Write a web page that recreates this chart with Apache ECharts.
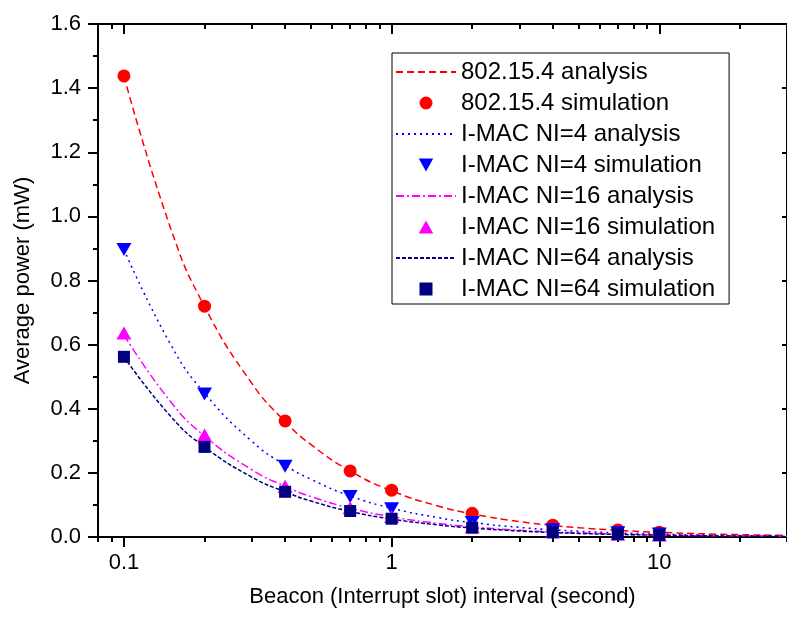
<!DOCTYPE html>
<html>
<head>
<meta charset="utf-8">
<script src="https://cdn.jsdelivr.net/npm/echarts@6/dist/echarts.min.js"></script>
<style>
html,body{margin:0;padding:0;background:#fff;}
#chart{width:787px;height:619px;}
</style>
</head>
<body>
<div id="chart"></div>
<script>
// ---- data ----
var simX = [0.1, 0.2, 0.4, 0.7, 1, 2, 4, 7, 10];
var sim802 = [1.438, 0.720, 0.362, 0.206, 0.146, 0.074, 0.037, 0.022, 0.015];
var simNI4 = [0.897, 0.446, 0.221, 0.126, 0.088, 0.045, 0.023, 0.013, 0.009];
var simNI16 = [0.636, 0.318, 0.158, 0.091, 0.064, 0.032, 0.016, 0.009, 0.0065];
var simNI64 = [0.562, 0.281, 0.141, 0.081, 0.057, 0.029, 0.0145, 0.0085, 0.006];

var anaX = [0.1, 0.15, 0.2, 0.3, 0.4, 0.5, 0.7, 1, 1.5, 2, 3, 4, 5, 7, 10, 15, 20, 30];
var ana802 = [1.438, 0.959, 0.719, 0.480, 0.360, 0.288, 0.206, 0.144, 0.096, 0.072, 0.048, 0.036, 0.029, 0.021, 0.0145, 0.0097, 0.0073, 0.0049];
var anaNI4 = [0.897, 0.598, 0.449, 0.299, 0.224, 0.180, 0.128, 0.090, 0.060, 0.045, 0.030, 0.0225, 0.018, 0.0128, 0.009, 0.006, 0.0045, 0.003];
var anaNI16 = [0.630, 0.420, 0.315, 0.210, 0.158, 0.126, 0.090, 0.063, 0.042, 0.0315, 0.021, 0.0158, 0.0126, 0.009, 0.0063, 0.0042, 0.0032, 0.0021];
var anaNI64 = [0.562, 0.375, 0.281, 0.187, 0.141, 0.112, 0.080, 0.056, 0.0375, 0.028, 0.0187, 0.014, 0.0112, 0.008, 0.0056, 0.0037, 0.0028, 0.0019];

var xMajorTicks = [0.1, 1, 10];
var xMinorTicks = [0.08, 0.09, 0.2, 0.3, 0.4, 0.5, 0.6, 0.7, 0.8, 0.9, 2, 3, 4, 5, 6, 7, 8, 9, 20, 30];
var seriesNames = ['802.15.4 analysis', '802.15.4 simulation', 'I-MAC NI=4 analysis', 'I-MAC NI=4 simulation',
  'I-MAC NI=16 analysis', 'I-MAC NI=16 simulation', 'I-MAC NI=64 analysis', 'I-MAC NI=64 simulation'];
var xName = 'Beacon (Interrupt slot) interval (second)';
var yName = 'Average power (mW)';

function zip(xs, ys) { return xs.map(function (x, i) { return [x, ys[i]]; }); }

var FONT = 'Liberation Sans, Arial, Helvetica, sans-serif';
var black = '#000';

function lineSeries(name, xs, ys, color, dash) {
  return {
    name: name, type: 'line', xAxisIndex: 0, yAxisIndex: 0,
    data: zip(xs, ys), smooth: true, symbol: 'none',
    itemStyle: { color: color },
    lineStyle: { color: color, width: 1.5, type: dash },
    z: 2
  };
}
function scatterSeries(name, xs, ys, color, symbol, size) {
  return {
    name: name, type: 'scatter', xAxisIndex: 0, yAxisIndex: 0,
    data: zip(xs, ys), symbol: symbol, symbolSize: size,
    itemStyle: { color: color, opacity: 1 },
    z: 3
  };
}

var downTri = 'path://M0,0 L10,0 L5,9 Z';
var upTri = 'path://M5,0 L10,9 L0,9 Z';
var squareIcon = 'path://M0,0 L10,0 L10,10 L0,10 Z';

var xBase = { type: 'log', logBase: 10, min: 0.08, max: 30, gridIndex: 0, splitLine: { show: false } };

var option = {
  animation: false,
  backgroundColor: '#fff',
  grid: { left: 98, right: -2, top: 24, bottom: 82, containLabel: false },
  legend: {
    orient: 'vertical',
    left: 392, top: 53,
    padding: [7, 14, 3, 3],
    itemWidth: 60, itemHeight: 13, itemGap: 7,
    borderColor: black, borderWidth: 1,
    backgroundColor: '#fff',
    textStyle: { fontFamily: FONT, fontSize: 24, color: black, lineHeight: 24 },
    data: [
      { name: seriesNames[0], itemStyle: { opacity: 0 } },
      { name: seriesNames[1] },
      { name: seriesNames[2], itemStyle: { opacity: 0 } },
      { name: seriesNames[3] },
      { name: seriesNames[4], itemStyle: { opacity: 0 } },
      { name: seriesNames[5], icon: upTri },
      { name: seriesNames[6], itemStyle: { opacity: 0 } },
      { name: seriesNames[7], icon: squareIcon }
    ]
  },
  xAxis: [
    Object.assign({}, xBase, {
      position: 'bottom',
      name: xName, nameLocation: 'middle', nameGap: 49,
      nameTextStyle: { fontFamily: FONT, fontSize: 22, color: black },
      axisLine: { show: true, lineStyle: { color: black, width: 2 } },
      axisTick: { show: true, inside: false, length: 10, lineStyle: { color: black, width: 2 }, customValues: xMajorTicks },
      axisLabel: { show: true, margin: 15, fontFamily: FONT, fontSize: 22, color: black, customValues: xMajorTicks }
    }),
    Object.assign({}, xBase, {
      position: 'bottom',
      axisLine: { show: false },
      axisTick: { show: true, inside: false, length: 5, lineStyle: { color: black, width: 2 }, customValues: xMinorTicks },
      axisLabel: { show: false }
    }),
    Object.assign({}, xBase, {
      position: 'top',
      axisLine: { show: true, lineStyle: { color: black, width: 2 } },
      axisTick: { show: true, inside: true, length: 10, lineStyle: { color: black, width: 2 }, customValues: xMajorTicks },
      axisLabel: { show: false }
    }),
    Object.assign({}, xBase, {
      position: 'top',
      axisLine: { show: false },
      axisTick: { show: true, inside: true, length: 5, lineStyle: { color: black, width: 2 }, customValues: xMinorTicks },
      axisLabel: { show: false }
    })
  ],
  yAxis: [
    {
      type: 'value', min: 0, max: 1.6, interval: 0.2, position: 'left',
      name: yName, nameLocation: 'middle', nameGap: 64,
      nameTextStyle: { fontFamily: FONT, fontSize: 22, color: black },
      splitLine: { show: false },
      axisLine: { show: true, lineStyle: { color: black, width: 2 } },
      axisTick: { show: true, inside: false, length: 10, lineStyle: { color: black, width: 2 } },
      minorTick: { show: true, splitNumber: 2, length: 5, lineStyle: { color: black, width: 2 } },
      axisLabel: { margin: 17, fontFamily: FONT, fontSize: 22, color: black,
        formatter: function (v) { return v.toFixed(1); } }
    },
    {
      type: 'value', min: 0, max: 1.6, interval: 0.2, position: 'right',
      splitLine: { show: false },
      axisLine: { show: true, lineStyle: { color: black, width: 2 } },
      axisTick: { show: true, inside: true, length: 5, lineStyle: { color: black, width: 2 } },
      minorTick: { show: false },
      axisLabel: { show: false }
    }
  ],
  series: [
    lineSeries(seriesNames[0], anaX, ana802, '#ff0000', [7, 4]),
    scatterSeries(seriesNames[1], simX, sim802, '#ff0000', 'circle', 13),
    lineSeries(seriesNames[2], anaX, anaNI4, '#0000ff', [2, 4]),
    scatterSeries(seriesNames[3], simX, simNI4, '#0000ff', downTri, [15, 13]),
    lineSeries(seriesNames[4], anaX, anaNI16, '#ff00ff', [8, 3, 2, 3]),
    scatterSeries(seriesNames[5], simX, simNI16, '#ff00ff', 'triangle', [15, 13]),
    lineSeries(seriesNames[6], anaX, anaNI64, '#000080', [4, 2]),
    scatterSeries(seriesNames[7], simX, simNI64, '#000080', 'rect', 12)
  ]
};

var chart = echarts.init(document.getElementById('chart'), null, { renderer: 'canvas' });
chart.setOption(option);
</script>
</body>
</html>
